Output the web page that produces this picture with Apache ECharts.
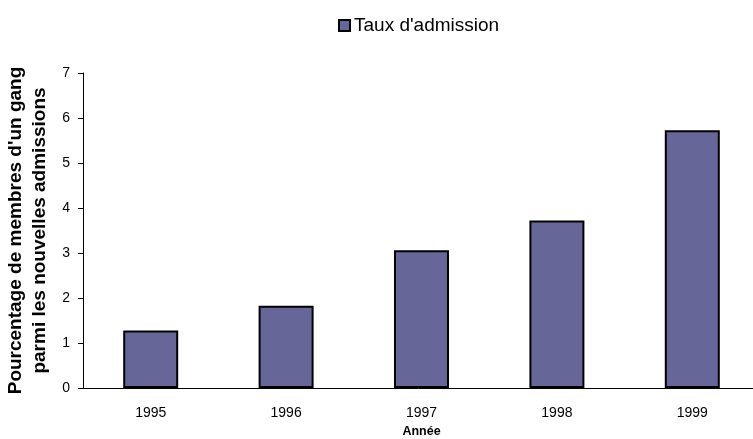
<!DOCTYPE html>
<html>
<head>
<meta charset="utf-8">
<script src="https://cdn.jsdelivr.net/npm/echarts@6/dist/echarts.min.js"></script>
<style>
  html, body { margin: 0; padding: 0; background: #fff; }
  #chart { width: 753px; height: 439px; }
</style>
</head>
<body>
<div id="chart"></div>
<script>
var years = ['1995', '1996', '1997', '1998', '1999'];
var admissionRate = [1.28, 1.83, 3.06, 3.72, 5.73];
var seriesName = "Taux d'admission";

var chart = echarts.init(document.getElementById('chart'));
var font = 'Liberation Sans, Arial, sans-serif';

chart.setOption({
    animation: false,
    textStyle: { fontFamily: font },
    legend: {
        data: [seriesName],
        left: 333,
        top: 11,
        itemWidth: 11,
        itemHeight: 11,
        icon: 'rect',
        textStyle: { fontSize: 19, color: '#000', fontFamily: font, padding: [0, 0, 0, -1] }
    },
    grid: { left: 83, top: 73, width: 677, height: 315, outerBoundsMode: 'none' },
    xAxis: {
        type: 'category',
        data: years,
        name: 'Année',
        nameLocation: 'middle',
        nameGap: 35,
        nameTextStyle: { fontSize: 12.5, fontWeight: 'bold', color: '#000' },
        axisLine: { lineStyle: { color: '#000', width: 1 } },
        axisTick: { length: 5, lineStyle: { color: '#000' } },
        axisLabel: { fontSize: 14, color: '#000', margin: 18 }
    },
    yAxis: {
        type: 'value',
        min: 0,
        max: 7,
        interval: 1,
        name: "Pourcentage de membres d'un gang\nparmi les nouvelles admissions",
        nameLocation: 'middle',
        nameRotate: 90,
        nameGap: 29,
        nameTextStyle: { fontSize: 19, fontWeight: 'bold', color: '#000', lineHeight: 24 },
        axisLine: { show: true, lineStyle: { color: '#000', width: 1 } },
        axisTick: { show: true, length: 5, lineStyle: { color: '#000' } },
        axisLabel: { fontSize: 14, color: '#000', margin: 13 },
        splitLine: { show: false }
    },
    series: [{
        name: seriesName,
        type: 'bar',
        data: admissionRate,
        barWidth: 55,
        itemStyle: { color: '#666699', borderColor: '#000', borderWidth: 2 }
    }]
});
</script>
</body>
</html>
